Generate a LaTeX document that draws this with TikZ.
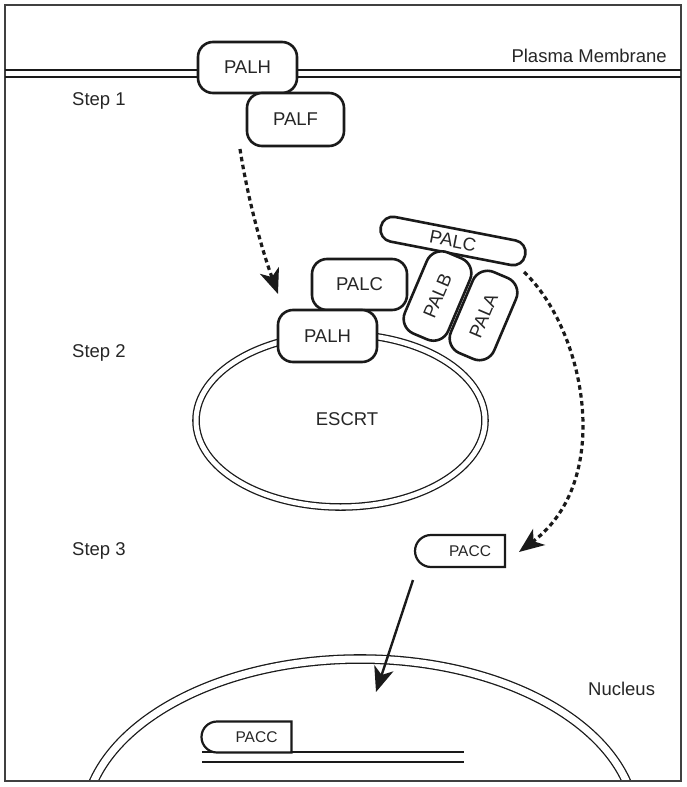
\documentclass[tikz,border=0pt]{standalone}
\usepackage{fontspec}
\setmainfont{Liberation Sans}
\usetikzlibrary{arrows.meta,shapes.misc}
\definecolor{ink}{HTML}{1A1A1A}
\definecolor{txt}{HTML}{262626}
\begin{document}
\begin{tikzpicture}[x=1pt,y=-1pt,
  lbl/.style={font=\fontsize{18.5}{22}\selectfont, text=txt, inner sep=0pt},
  prot/.style={draw=ink, line width=2.6pt, fill=white, rounded corners=15pt,
    minimum width=98pt, minimum height=51pt, inner sep=0pt,
    font=\fontsize{18.5}{22}\selectfont, text=txt},
  rod/.style={prot, rounded corners=16pt, minimum width=88pt, minimum height=47pt},
  longrod/.style={prot, rounded corners=12pt, minimum width=147pt, minimum height=25pt},
  pacc/.style={rounded rectangle, rounded rectangle right arc=none, draw=ink,
    line width=2.2pt, fill=white, minimum width=90pt, minimum height=31pt,
    inner sep=0pt, font=\fontsize{15.5}{18}\selectfont, text=txt},
  memb/.style={line width=1.4pt, draw=ink},
  envelope/.style={draw=ink, line width=1.3pt, double=white, double distance=5pt},
  tip/.style={-{Stealth[length=25pt,width=20pt,inset=7pt]}},
  dotarrow/.style={tip, draw=ink, line width=3.2pt, dash pattern=on 4.5pt off 3.5pt},
  solidarrow/.style={tip, draw=ink, line width=2.4pt},
]
\useasboundingbox (0,0) rectangle (686,787);

% nucleus envelope (clipped by the frame)
\begin{scope}
  \clip (5,5) rectangle (681,781);
  \draw[envelope, double distance=7pt] (360,825) ellipse [x radius=276, y radius=166];
\end{scope}

% frame
\draw[line width=1.5pt, draw=black!75] (5,5) rectangle (681,781);

% plasma membrane
\draw[memb] (5,70) -- (681,70);
\draw[memb] (5,77) -- (681,77);
\node[lbl, anchor=base east] (pmlabel) at (667,62) {Plasma Membrane};

% step labels
\node[lbl, anchor=base west] (step1) at (72,105) {Step 1};
\node[lbl, anchor=base west] (step2) at (72,357) {Step 2};
\node[lbl, anchor=base west] (step3) at (72,555) {Step 3};

% step 1
\node[prot, minimum width=99pt, minimum height=51pt] (palh1) at (247.5,67.5) {PALH};
\node[prot, minimum width=97pt, minimum height=53pt] (palf) at (295.5,119.5) {PALF};

% ESCRT
\draw[envelope] (340.5,420.5) ellipse [x radius=144.5, y radius=86.5];
\node[lbl, anchor=base] (escrt) at (347,425) {ESCRT};

% step 2 complex
\node[longrod, rotate=-11] (palc2) at (453,241) {PALC};
\node[prot, minimum width=95pt, minimum height=51pt] (palc1) at (359.5,284.5) {PALC};
\node[prot, minimum width=99pt, minimum height=52pt] (palh2) at (327.5,336) {PALH};
\node[rod, rotate=67] (palb) at (437.5,296) {PALB};
\node[rod, rotate=67] (pala) at (483.5,315.5) {PALA};

% step 3
\node[pacc, minimum height=32pt] (pacc1) at (460.5,551) {\hspace*{19pt}PACC};

% nucleus
\node[lbl, anchor=base west] (nucleus) at (588,695) {Nucleus};
\coordinate (dnaA) at (202,752);
\coordinate (dnaB) at (464,752);
\coordinate (dnaC) at (202,762);
\coordinate (dnaD) at (464,762);
\draw[line width=1.6pt, draw=ink] (dnaA) -- (dnaB);
\draw[line width=1.6pt, draw=ink] (dnaC) -- (dnaD);
\node[pacc] (pacc2) at (247,737) {\hspace*{19pt}PACC};

% connectors
\coordinate (d1s) at (240,149);
\coordinate (d1e) at (278,294);
\draw[dotarrow] (d1s) .. controls (248,200) and (262,250) .. (d1e);

\coordinate (d2s) at (524,272);
\coordinate (d2e) at (519,552);
\draw[dotarrow] (d2s) .. controls (585,330) and (615,480) .. (d2e);

\coordinate (s1s) at (413,580);
\coordinate (s1e) at (376,692);
\draw[solidarrow] (s1s) -- (s1e);
\end{tikzpicture}
\end{document}
